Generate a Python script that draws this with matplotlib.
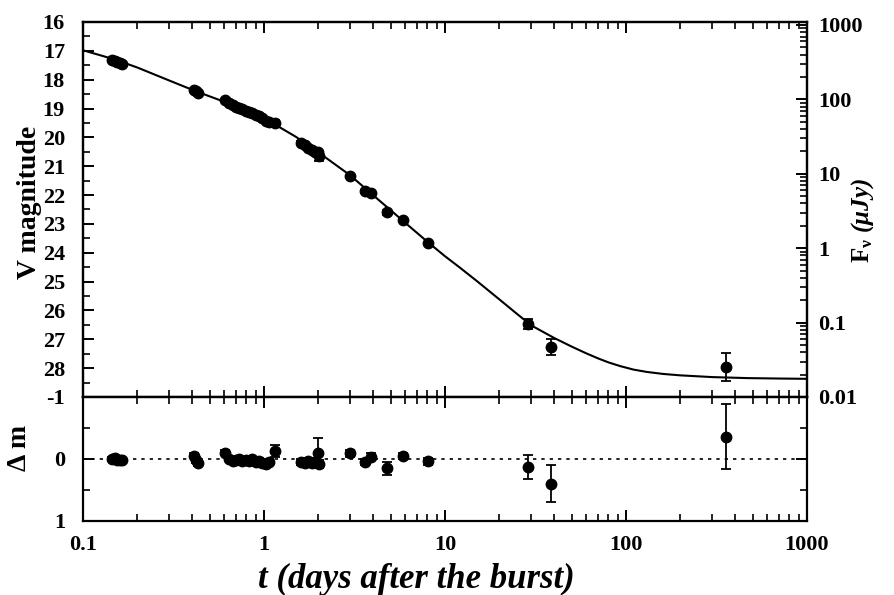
import matplotlib
matplotlib.use("Agg")
import matplotlib.pyplot as plt
from matplotlib.ticker import FixedLocator, MultipleLocator, LogLocator, FuncFormatter, NullFormatter

plt.rcParams['font.family'] = ['Liberation Serif', 'DejaVu Serif']
plt.rcParams['font.weight'] = 'bold'
plt.rcParams['axes.unicode_minus'] = False
plt.rcParams['mathtext.fontset'] = 'custom'
plt.rcParams['mathtext.rm'] = 'Liberation Serif'
plt.rcParams['mathtext.bf'] = 'Liberation Serif:bold'
plt.rcParams['mathtext.it'] = 'Liberation Serif:italic'
plt.rcParams['mathtext.bfit'] = 'Liberation Serif:bold:italic'

# observations: time since burst (days), V magnitude, error
t_obs = [0.145, 0.150, 0.155, 0.160, 0.165, 0.41, 0.42, 0.43,
         0.61, 0.64, 0.67, 0.70, 0.73, 0.76, 0.80, 0.83, 0.86, 0.90, 0.94, 0.98,
         1.02, 1.07, 1.15, 1.60, 1.68, 1.76, 1.84, 1.92, 2.00, 2.02,
         2.99, 3.6, 3.9, 4.79, 5.86, 8.05, 28.8, 38.5, 356]
v_mag = [17.32, 17.36, 17.39, 17.42, 17.45, 18.36, 18.40, 18.46,
         18.70, 18.81, 18.88, 18.93, 18.97, 19.01, 19.07, 19.11, 19.15, 19.21, 19.27, 19.34,
         19.42, 19.47, 19.50, 20.19, 20.28, 20.38, 20.44, 20.50, 20.50, 20.66,
         21.34, 21.87, 21.92, 22.60, 22.86, 23.66, 26.47, 27.27, 27.96]
v_err = [0.03, 0.03, 0.03, 0.03, 0.03, 0.04, 0.04, 0.04,
         0.04, 0.04, 0.04, 0.04, 0.04, 0.04, 0.04, 0.04, 0.04, 0.04, 0.05, 0.05,
         0.05, 0.05, 0.10, 0.05, 0.05, 0.05, 0.05, 0.06, 0.05, 0.15,
         0.05, 0.05, 0.05, 0.08, 0.05, 0.05, 0.18, 0.28, 0.50]

# residuals (observed - model)
dm = [0.00, -0.01, 0.01, 0.01, 0.02, -0.05, 0.02, 0.07,
      -0.10, 0.00, 0.03, 0.02, 0.00, 0.04, 0.02, 0.04, 0.00, 0.05, 0.03, 0.07,
      0.08, 0.05, -0.13, 0.05, 0.06, 0.04, 0.07, 0.05, -0.10, 0.08,
      -0.09, 0.05, -0.04, 0.15, -0.05, 0.04, 0.13, 0.40, -0.36]
dm_err = [0.03, 0.03, 0.03, 0.03, 0.03, 0.04, 0.04, 0.04,
          0.04, 0.04, 0.04, 0.04, 0.04, 0.04, 0.04, 0.04, 0.04, 0.04, 0.05, 0.05,
          0.05, 0.05, 0.10, 0.05, 0.05, 0.05, 0.05, 0.06, 0.24, 0.06,
          0.05, 0.05, 0.05, 0.10, 0.05, 0.05, 0.20, 0.30, 0.52]

# fitted model curve
t_fit = [0.10, 0.15, 0.20, 0.30, 0.42, 0.60, 0.80, 1.0, 1.5, 2.0, 3.0, 4.0, 5.0,
         6.0, 8.0, 10, 12, 15, 20, 25, 30, 40, 50, 60, 70, 80, 93, 110, 130,
         160, 200, 300, 470, 700, 1000]
v_fit = [16.98, 17.30, 17.58, 18.03, 18.40, 18.76, 19.07, 19.33, 19.98, 20.52,
         21.32, 22.00, 22.52, 22.95, 23.62, 24.12, 24.50, 24.98, 25.62, 26.12,
         26.52, 26.95, 27.25, 27.48, 27.66, 27.80, 27.93, 28.05, 28.13,
         28.20, 28.25, 28.31, 28.345, 28.36, 28.37]

flux_ticks = [0.01, 0.1, 1, 10, 100, 1000]

fig = plt.figure(figsize=(8.95, 5.95), dpi=100)
W, H = 895, 595
L, R = 83 / W, 807 / W
ax1 = fig.add_axes([L, 1 - 397 / H, R - L, (397 - 22) / H])
ax2 = fig.add_axes([L, 1 - 521 / H, R - L, (521 - 397) / H], sharex=ax1)

ax1.plot(t_fit, v_fit, color='black', lw=1.5, zorder=2)
ax1.errorbar(t_obs, v_mag, yerr=v_err, fmt='o', color='black', ms=7.5,
             elinewidth=1.3, capsize=3.5, capthick=1.3, zorder=3)
ax1.set_xscale('log')
ax1.set_xlim(0.1, 1000)
ax1.set_ylim(29, 16)
ax1.yaxis.set_major_locator(FixedLocator(list(range(16, 29))))
ax1.yaxis.set_minor_locator(MultipleLocator(0.5))
ax1.set_ylabel('V magnitude', fontsize=20, fontweight='bold')
ax1.yaxis.set_label_coords(-0.057, 0.52)
ax1.tick_params(labelbottom=False)

ax1r = ax1.twinx()
ax1r.set_yscale('log')
ax1r.set_ylim(0.01, 1097)
ax1r.yaxis.set_major_locator(FixedLocator(flux_ticks))
ax1r.yaxis.set_minor_locator(LogLocator(base=10, subs=range(2, 10), numticks=20))
ax1r.yaxis.set_minor_formatter(NullFormatter())
ax1r.yaxis.set_major_formatter(FuncFormatter(lambda v, p: '%g' % v))
ax1r.set_ylabel(r'$\mathbf{F}_{\mathbf{\nu}}\ \mathbfit{(μJy)}$', fontsize=18,
                rotation=90)
ax1r.yaxis.set_label_coords(1.058, 0.47)

ax2.axhline(0, color='black', ls=(0, (2, 3)), lw=1.2, zorder=1)
ax2.errorbar(t_obs, dm, yerr=dm_err, fmt='o', color='black', ms=7.5,
             elinewidth=1.3, capsize=3.5, capthick=1.3, zorder=3)
ax2.set_ylim(1, -1)
ax2.yaxis.set_major_locator(FixedLocator([-1, 0, 1]))
ax2.yaxis.set_minor_locator(MultipleLocator(0.5))
ax2.set_ylabel('Δ m', fontsize=20, fontweight='bold')
ax2.yaxis.set_label_coords(-0.07, 0.59)
ax2.xaxis.set_major_formatter(FuncFormatter(lambda v, p: '%g' % v))
ax2.set_xlabel('t (days after the burst)', fontsize=25, fontweight='bold',
               fontstyle='italic')
ax2.xaxis.set_label_coords(0.46, -0.34)

for ax in (ax1, ax2, ax1r):
    for s in ax.spines.values():
        s.set_linewidth(1.6)
    ax.tick_params(which='major', direction='in', length=8, width=1.4, labelsize=16)
    ax.tick_params(which='minor', direction='in', length=5, width=1.2)
for ax in (ax1, ax2):
    ax.tick_params(which='both', top=True)
    ax.tick_params(axis='y', which='major', pad=13)
ax2.tick_params(axis='y', which='both', right=True)
ax1.tick_params(axis='y', which='both', right=False)
ax1r.tick_params(axis='y', which='major', pad=8)
ax2.tick_params(axis='x', which='major', pad=10)
for lab in ax1.get_yticklabels() + ax2.get_yticklabels() + ax1r.get_yticklabels() + ax2.get_xticklabels():
    lab.set_fontweight('bold')

fig.savefig('out.png', dpi=100)
